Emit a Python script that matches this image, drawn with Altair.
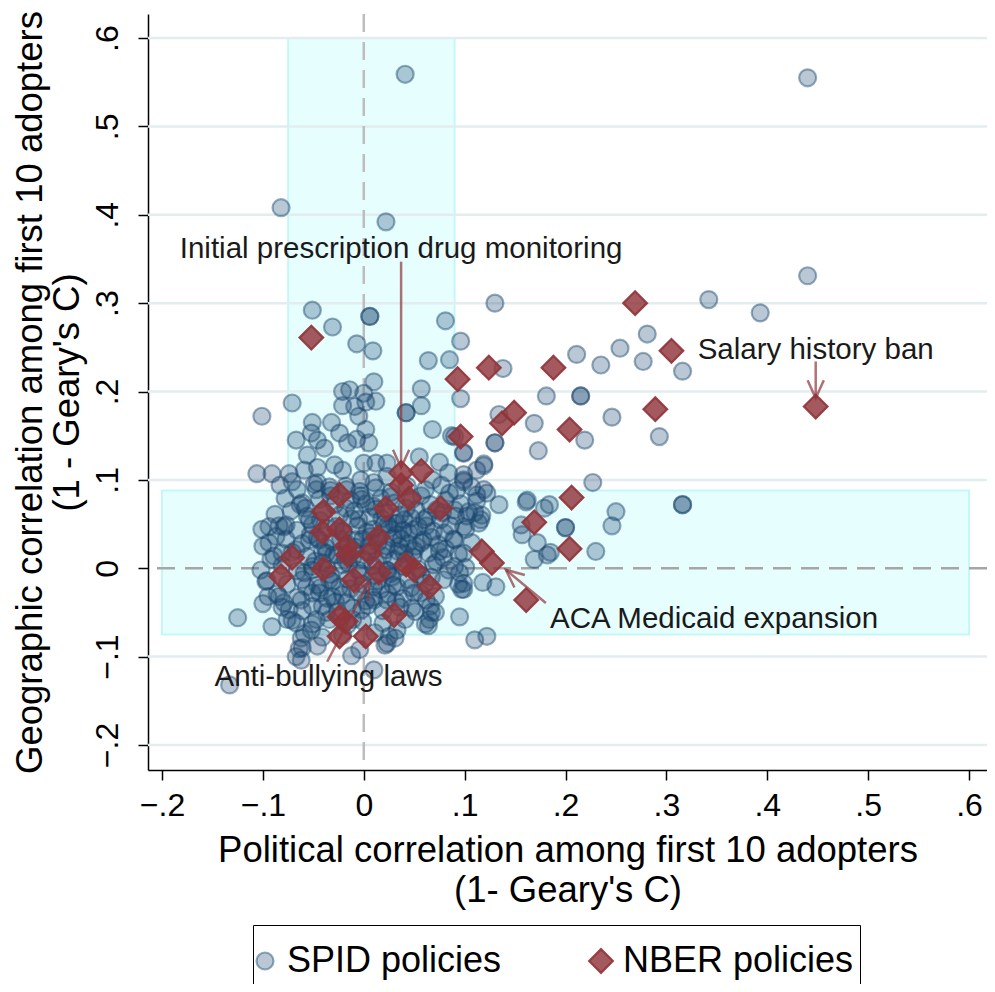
import math
import altair as alt
import pandas as pd

FONT = "Liberation Sans"

# ---------------- data ----------------
x_ticks = [-0.2, -0.1, 0, 0.1, 0.2, 0.3, 0.4, 0.5, 0.6]
y_ticks = [-0.2, -0.1, 0, 0.1, 0.2, 0.3, 0.4, 0.5, 0.6]
x_domain = [-0.2139, 0.6178]
y_domain = [-0.2283, 0.6272]

# SPID policies: outlying / mid-density points (x, y)
spid_outer = [
    (0.041, 0.559), (0.440, 0.555), (-0.082, 0.408), (0.022, 0.392), (0.440, 0.331),
    (0.342, 0.304), (0.393, 0.289), (0.130, 0.300), (0.006, 0.285), (0.006, 0.285),
    (-0.051, 0.292), (-0.031, 0.273), (0.081, 0.280), (0.096, 0.257), (-0.007, 0.254),
    (0.009, 0.246), (0.064, 0.235), (0.085, 0.236), (0.138, 0.226), (0.281, 0.265),
    (0.254, 0.249), (0.277, 0.234), (0.316, 0.223), (0.211, 0.242), (0.235, 0.230),
    (0.057, 0.203), (0.096, 0.192), (0.181, 0.195), (0.215, 0.195), (0.215, 0.195),
    (0.042, 0.176), (0.042, 0.176), (0.057, 0.184), (0.134, 0.174), (0.169, 0.164),
    (0.246, 0.171), (0.293, 0.149), (0.068, 0.157), (0.130, 0.142), (0.130, 0.142),
    (0.219, 0.145), (0.173, 0.133), (0.087, 0.150), (0.099, 0.131), (0.119, 0.118),
    (0.227, 0.097), (0.316, 0.072), (0.316, 0.072), (0.250, 0.064), (0.246, 0.048),
    (0.200, 0.046), (0.200, 0.046), (0.230, 0.019), (0.162, 0.077), (0.184, 0.072),
    (0.179, 0.068), (0.156, 0.049), (0.157, 0.038), (0.172, 0.029), (0.182, 0.015),
    (0.169, 0.010), (0.185, 0.018), (0.119, 0.089), (0.122, 0.085), (0.134, 0.072),
    (0.114, 0.051), (0.110, 0.063), (0.099, 0.047), (0.118, -0.016), (0.131, -0.021),
    (0.099, -0.024), (0.095, -0.005), (0.099, 0.106), (0.099, 0.098), (0.085, 0.085),
    (0.010, 0.211), (0.002, 0.188), (0.119, 0.116), (0.112, 0.083), (0.161, 0.075),
    (0.117, 0.060),
]

# SPID policies: upper-left fringe of the cluster
spid_fringe = [
    (-0.101, 0.172), (-0.071, 0.187), (-0.021, 0.200), (-0.014, 0.202), (-0.021, 0.184),
    (-0.051, 0.165), (-0.032, 0.165), (-0.067, 0.145), (-0.052, 0.153), (-0.046, 0.145),
    (-0.039, 0.136), (-0.056, 0.128), (-0.024, 0.153), (-0.016, 0.142), (-0.106, 0.107),
    (-0.091, 0.107), (-0.074, 0.107), (-0.071, 0.098), (-0.059, 0.111), (-0.046, 0.114),
    (-0.029, 0.117), (-0.021, 0.111), (-0.046, 0.097), (-0.047, 0.089), (-0.034, 0.092),
    (-0.017, 0.089), (-0.063, 0.072), (-0.054, 0.055), (-0.077, 0.049), (-0.094, 0.047),
    (-0.009, 0.183), (0.068, 0.100), (0.090, 0.149), (0.099, 0.130), (0.000, 0.198),
    (0.012, 0.189), (-0.005, 0.172), (0.002, 0.157), (-0.007, 0.146), (0.005, 0.142),
    (0.000, 0.119), (0.012, 0.119), (0.023, 0.119), (0.055, 0.126), (0.075, 0.120),
    (0.084, 0.108), (0.099, 0.100), (0.112, 0.111), (-0.003, 0.100), (0.010, 0.097),
    (0.023, 0.104), (-0.002, 0.078), (0.010, 0.070), (0.090, 0.066), (0.102, 0.059),
    (0.116, 0.055), (0.060, 0.055), (0.033, 0.051),
]

# SPID policies: lower fringe of the cluster
spid_lower = [
    (-0.125, -0.056), (-0.100, 0.025), (-0.092, 0.010), (-0.097, -0.015), (-0.095, -0.032),
    (-0.091, -0.066), (-0.084, -0.032), (-0.079, -0.039), (-0.076, -0.058), (-0.067, -0.062),
    (-0.062, -0.079), (-0.061, -0.090), (-0.067, -0.100), (-0.062, -0.104), (-0.079, 0.047),
    (-0.087, 0.036), (-0.081, 0.017), (-0.067, 0.021), (-0.054, 0.032), (-0.051, -0.002),
    (-0.059, -0.005), (-0.041, 0.006), (-0.062, -0.036), (-0.051, -0.043), (-0.047, -0.058),
    (-0.037, -0.050), (-0.052, -0.070), (-0.074, -0.047), (-0.057, -0.021), (-0.044, -0.028),
    (-0.031, -0.032), (-0.034, -0.013), (-0.024, -0.021), (-0.017, -0.039), (-0.011, -0.058),
    (-0.044, 0.032), (-0.037, 0.017), (-0.017, 0.017), (-0.008, 0.032), (-0.133, -0.132),
    (0.010, -0.115), (-0.012, -0.099), (0.095, -0.055), (0.110, -0.081), (0.122, -0.077),
    (-0.100, -0.040), (0.064, -0.065), (0.071, -0.050), (0.097, -0.024), (0.099, -0.017),
    (0.048, -0.045), (0.067, -0.050), (0.065, -0.058), (0.033, -0.070), (0.025, -0.077),
    (0.023, -0.085), (0.090, 0.002), (0.090, 0.032), (0.099, 0.017), (0.075, 0.019),
    (0.057, 0.029), (0.080, 0.040), (0.050, 0.044), (0.030, 0.051), (0.023, 0.025),
    (0.040, 0.017), (0.023, -0.002), (0.033, -0.021), (0.050, -0.028), (0.067, -0.010),
    (0.010, -0.021), (0.010, -0.036), (-0.002, -0.047), (0.023, -0.036),
]

# SPID policies: dense core
spid_core = [
    (-0.083, 0.094), (-0.066, 0.089), (-0.049, 0.095), (-0.033, 0.088), (-0.018, 0.093),
    (-0.004, 0.087), (0.012, 0.091), (0.027, 0.086), (0.043, 0.093), (0.061, 0.089),
    (0.077, 0.094), (0.092, 0.088), (0.107, 0.092),
    (-0.078, 0.079), (-0.061, 0.074), (-0.044, 0.078), (-0.029, 0.072), (-0.013, 0.077),
    (0.002, 0.073), (0.017, 0.079), (0.031, 0.074), (0.048, 0.078), (0.066, 0.072),
    (0.081, 0.077), (0.096, 0.073), (0.112, 0.076),
    (-0.088, 0.061), (-0.072, 0.065), (-0.056, 0.059), (-0.041, 0.064), (-0.024, 0.060),
    (-0.009, 0.065), (0.006, 0.058), (0.021, 0.063), (0.036, 0.060), (0.052, 0.066),
    (0.063, 0.058), (0.078, 0.063), (0.091, 0.059), (0.104, 0.064),
    (-0.101, 0.044), (-0.084, 0.048), (-0.066, 0.043), (-0.051, 0.049), (-0.036, 0.045),
    (-0.021, 0.042), (-0.006, 0.048), (0.009, 0.044), (0.024, 0.049), (0.039, 0.043),
    (0.054, 0.047), (0.069, 0.042), (0.086, 0.048), (0.101, 0.044),
    (-0.094, 0.029), (-0.077, 0.033), (-0.061, 0.028), (-0.046, 0.034), (-0.031, 0.030),
    (-0.016, 0.027), (-0.001, 0.033), (0.014, 0.029), (0.029, 0.034), (0.044, 0.028),
    (0.059, 0.032), (0.074, 0.027), (0.089, 0.033), (0.107, 0.029),
    (-0.089, 0.014), (-0.071, 0.018), (-0.056, 0.013), (-0.041, 0.019), (-0.026, 0.015),
    (-0.011, 0.012), (0.004, 0.018), (0.019, 0.014), (0.034, 0.019), (0.049, 0.013),
    (0.064, 0.017), (0.079, 0.012), (0.094, 0.016),
    (-0.102, -0.002), (-0.081, 0.003), (-0.066, -0.003), (-0.051, 0.002), (-0.036, -0.001),
    (-0.021, 0.004), (-0.006, -0.002), (0.009, 0.003), (0.024, -0.003), (0.039, 0.002),
    (0.054, -0.001), (0.069, 0.004), (0.084, -0.002), (0.101, 0.001),
    (-0.096, -0.014), (-0.076, -0.018), (-0.061, -0.013), (-0.046, -0.019), (-0.031, -0.015),
    (-0.016, -0.012), (-0.001, -0.018), (0.014, -0.014), (0.029, -0.019), (0.044, -0.013),
    (0.061, -0.017), (0.079, -0.013), (0.094, -0.018),
    (-0.086, -0.029), (-0.066, -0.033), (-0.051, -0.028), (-0.036, -0.034), (-0.021, -0.030),
    (-0.006, -0.027), (0.009, -0.033), (0.024, -0.029), (0.039, -0.034), (0.056, -0.028),
    (0.071, -0.032),
    (-0.081, -0.044), (-0.061, -0.048), (-0.041, -0.043), (-0.026, -0.049), (-0.011, -0.045),
    (0.004, -0.042), (0.019, -0.048), (0.036, -0.044), (0.051, -0.049), (0.066, -0.043),
    (-0.071, -0.059), (-0.051, -0.063), (-0.034, -0.058), (-0.016, -0.064), (-0.001, -0.060),
    (0.019, -0.062), (0.041, -0.058), (0.061, -0.063),
    (-0.059, -0.074), (-0.041, -0.078), (-0.021, -0.076), (0.011, -0.073), (0.031, -0.079),
    (-0.064, -0.091), (-0.046, -0.088), (-0.004, -0.092), (0.021, -0.087),
    (0.005, 0.025), (0.015, 0.035), (-0.010, 0.020), (0.030, 0.010), (0.045, 0.040),
    (0.020, 0.050), (-0.020, 0.040), (0.000, 0.010), (0.035, 0.025), (-0.015, 0.005),
    (0.010, -0.008), (0.025, 0.045), (0.050, 0.020), (-0.030, 0.015), (0.040, 0.055),
    (-0.005, 0.055), (0.012, 0.067), (0.028, -0.010),
]

# SPID policies: second layer of the dense core
spid_core2 = [
    (-0.058, 0.068), (-0.043, 0.054), (-0.028, 0.047), (-0.012, 0.056), (0.003, 0.041),
    (0.018, 0.056), (0.033, 0.038), (0.047, 0.057), (0.062, 0.048), (0.076, 0.055),
    (-0.053, 0.038), (-0.038, 0.024), (-0.023, 0.033), (-0.008, 0.024), (0.007, 0.036),
    (0.022, 0.021), (0.037, 0.033), (0.052, 0.025), (0.067, 0.035), (0.081, 0.022),
    (-0.048, 0.008), (-0.033, -0.007), (-0.018, 0.009), (-0.003, -0.006), (0.012, 0.008),
    (0.027, -0.006), (0.042, 0.009), (0.057, -0.008), (0.072, 0.007),
    (-0.043, -0.022), (-0.028, -0.038), (-0.013, -0.023), (0.002, -0.037), (0.017, -0.024),
    (0.032, -0.038), (0.047, -0.022), (0.062, -0.036),
    (-0.033, 0.082), (-0.003, 0.082), (0.027, 0.081), (0.057, 0.082), (-0.018, 0.068),
    (0.042, 0.068), (0.072, 0.066),
]

# NBER policies (x, y)
nber = [
    (-0.052, 0.261), (0.093, 0.214), (0.124, 0.227), (0.096, 0.149), (0.037, 0.108),
    (0.057, 0.110), (0.037, 0.094), (0.045, 0.079), (0.022, 0.068), (-0.024, 0.083),
    (0.076, 0.068), (-0.040, 0.064), (-0.041, 0.041), (-0.024, 0.044), (0.014, 0.035),
    (-0.017, 0.025), (0.006, 0.017), (-0.016, 0.015), (-0.071, 0.012), (-0.040, -0.001),
    (-0.082, -0.009), (-0.010, -0.013), (0.015, -0.005), (0.042, 0.004), (0.050, -0.002),
    (0.065, -0.021), (0.117, 0.019), (0.127, 0.006), (-0.024, -0.055), (-0.018, -0.060),
    (-0.024, -0.077), (0.002, -0.077), (0.030, -0.053), (0.269, 0.300), (0.305, 0.246),
    (0.188, 0.227), (0.149, 0.176), (0.137, 0.164), (0.204, 0.157), (0.289, 0.180),
    (0.206, 0.080), (0.169, 0.052), (0.204, 0.022), (0.161, -0.036), (0.448, 0.183),
]

# shaded regions
shade_x1 = [-0.075, -0.2]
shade_x2 = [0.09, 0.6]
shade_y1 = [-0.075, -0.075]
shade_y2 = [0.6, 0.088]

# annotations
label_text = ["Initial prescription drug monitoring", "Salary history ban", "Anti-bullying laws"]
label_x = [0.037, 0.448, -0.035]
label_y = [0.351, 0.2365, -0.133]
left_label_text = ["ACA Medicaid expansion"]
left_label_x = [0.1847]
left_label_y = [-0.0673]

arrow_x1 = [0.037, 0.448, 0.1805, -0.0363]
arrow_y1 = [0.347, 0.234, -0.0394, -0.1058]
arrow_x2 = [0.037, 0.448, 0.1408, 0.0054]
arrow_y2 = [0.1137, 0.1925, -0.0017, -0.0149]

# ---------------- chart ----------------
W, H = 839, 756
kx = W / (x_domain[1] - x_domain[0])
ky = H / (y_domain[1] - y_domain[0])

groups = ["SPID policies", "NBER policies"]
spid_all = spid_outer + spid_fringe + spid_lower + spid_core + spid_core2
rows = [{"x": x, "y": y, "group": groups[0]} for x, y in spid_all]
rows += [{"x": x, "y": y, "group": groups[1]} for x, y in nber]
pts = pd.DataFrame(rows)

rect_df = pd.DataFrame({"x1": shade_x1, "x2": shade_x2, "y1": shade_y1, "y2": shade_y2})
grid_df = pd.DataFrame({"y": [v for v in y_ticks if v != 0]})
zero_df = pd.DataFrame({"v": [0]})
arrow_df = pd.DataFrame({"x1": arrow_x1, "y1": arrow_y1, "x2": arrow_x2, "y2": arrow_y2})
arrow_df["ang"] = [
    math.degrees(math.atan2(-(b - a) * kx, -(d - c) * ky)) % 360
    for a, b, c, d in zip(arrow_x1, arrow_x2, arrow_y1, arrow_y2)
]
lab_df = pd.DataFrame({"t": label_text, "x": label_x, "y": label_y})
lab2_df = pd.DataFrame({"t": left_label_text, "x": left_label_x, "y": left_label_y})

xs = alt.Scale(domain=x_domain, nice=False, zero=False)
ys = alt.Scale(domain=y_domain, nice=False, zero=False)
fmt = "replace(format(datum.value, '.1~f'), '0.', '.')"

xaxis = alt.Axis(
    values=x_ticks, labelExpr=fmt, grid=False,
    title=["Political correlation among first 10 adopters", "(1- Geary's C)"],
    domainColor="black", domainWidth=1.5, tickColor="black", tickWidth=1.5, tickSize=10,
    labelFont=FONT, labelFontSize=32, labelColor="black", labelPadding=10,
    labelFlush=False, labelOverlap=False,
    titleFont=FONT, titleFontSize=36.5, titleFontWeight="normal", titleColor="black",
    titlePadding=11, titleLineHeight=40,
)
yaxis = alt.Axis(
    values=y_ticks, labelExpr=fmt, grid=False,
    title=["Geographic correlation among first 10 adopters", "(1 - Geary's C)"],
    domainColor="black", domainWidth=1.5, tickColor="black", tickWidth=1.5, tickSize=10,
    labelFont=FONT, labelFontSize=32, labelColor="black", labelPadding=14,
    labelAngle=270, labelAlign="center", labelBaseline="bottom",
    labelFlush=False, labelOverlap=False,
    titleFont=FONT, titleFontSize=36.5, titleFontWeight="normal", titleColor="black",
    titlePadding=5, titleLineHeight=37,
)

X = lambda f: alt.X(f, type="quantitative", scale=xs, axis=xaxis)
Y = lambda f: alt.Y(f, type="quantitative", scale=ys, axis=yaxis)

rects = alt.Chart(rect_df).mark_rect(
    fill="#e6fefe", stroke="#c6f7f7", strokeWidth=2
).encode(x=X("x1"), x2="x2", y=Y("y1"), y2="y2")

grid = alt.Chart(grid_df).mark_rule(color="#e3ecee", strokeWidth=2.5).encode(y=Y("y"))

vzero = alt.Chart(zero_df).mark_rule(color="#bdbdbd", strokeWidth=2.5, strokeDash=[18, 10]).encode(x=X("v"))
hzero = alt.Chart(zero_df).mark_rule(color="#a6a6a6", strokeWidth=2.5, strokeDash=[18, 10]).encode(y=Y("v"))

fill_cols = ["rgba(26,71,111,0.3)", "rgba(144,53,59,0.82)"]
stroke_cols = ["rgba(26,71,111,0.45)", "rgba(144,53,59,0.92)"]

points = alt.Chart(pts).mark_point(filled=True, strokeWidth=2.2, opacity=1).encode(
    x=X("x"), y=Y("y"),
    fill=alt.Fill("group:N", scale=alt.Scale(domain=groups, range=fill_cols),
                  legend=alt.Legend(
                      title=" ", titleFontSize=8, titlePadding=4,
                      orient="none", legendX=105, legendY=911,
                      direction="horizontal", labelFont=FONT, labelFontSize=36,
                      labelColor="black", labelLimit=600, strokeColor="black", padding=6,
                      labelOffset=4, columnPadding=82, symbolStrokeWidth=2.2,
                      symbolOffset=-12,
                  )),
    stroke=alt.Stroke("group:N", scale=alt.Scale(domain=groups, range=stroke_cols)),
    shape=alt.Shape("group:N", scale=alt.Scale(domain=groups, range=["circle", "diamond"])),
    size=alt.Size("group:N", scale=alt.Scale(domain=groups, range=[290, 560])),
)

arrows = alt.Chart(arrow_df).mark_rule(color="#90353b", opacity=0.7, strokeWidth=2.5).encode(
    x=X("x1"), y=Y("y1"), x2="x2", y2="y2"
)
heads = alt.Chart(arrow_df).mark_point(
    shape="M -0.45 -1 L 0 0 L 0.45 -1", filled=False, size=1296,
    color="#90353b", opacity=0.7, strokeWidth=2.5,
).encode(x=X("x2"), y=Y("y2"), angle=alt.Angle("ang:Q", scale=None))

labels = alt.Chart(lab_df).mark_text(
    font=FONT, fontSize=29.5, color="#1a1a1a", align="center", baseline="alphabetic"
).encode(x=X("x"), y=Y("y"), text="t:N")
labels2 = alt.Chart(lab2_df).mark_text(
    font=FONT, fontSize=29.5, color="#1a1a1a", align="left", baseline="alphabetic"
).encode(x=X("x"), y=Y("y"), text="t:N")

chart = alt.layer(
    rects, grid, vzero, hzero, points, arrows, heads, labels, labels2
).properties(
    width=W, height=H,
    autosize=alt.AutoSizeParams(type="none"),
    padding={"left": 140, "top": 6, "right": 0, "bottom": 214},
    background="white",
).configure_view(stroke=None)

chart.save("out.html", embed_options={"renderer": "svg", "actions": False})
